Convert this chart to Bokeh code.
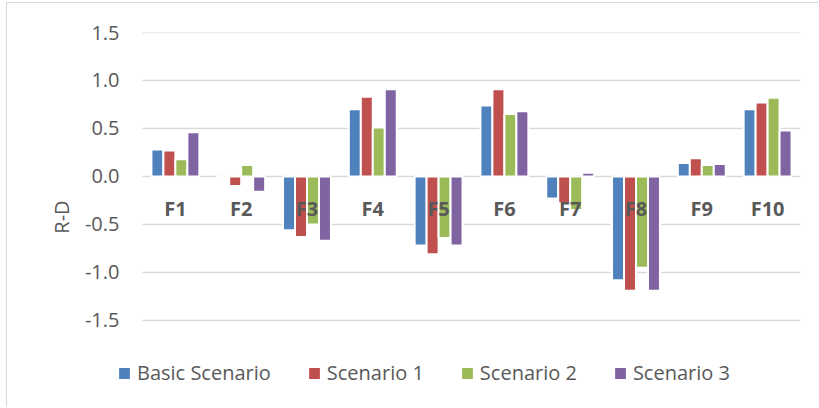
from bokeh.plotting import figure
from bokeh.models import Range1d, Legend, LegendItem, ColumnDataSource, FixedTicker
from bokeh.transform import dodge
from bokeh.core.properties import value
from bokeh.embed import file_html
from bokeh.resources import INLINE

categories = ["F1", "F2", "F3", "F4", "F5", "F6", "F7", "F8", "F9", "F10"]
basic = [0.28, -0.01, -0.56, 0.70, -0.72, 0.74, -0.23, -1.08, 0.14, 0.70]
scen1 = [0.27, -0.10, -0.63, 0.83, -0.81, 0.91, -0.28, -1.19, 0.19, 0.77]
scen2 = [0.18, 0.12, -0.50, 0.51, -0.64, 0.65, -0.35, -0.95, 0.12, 0.82]
scen3 = [0.46, -0.16, -0.67, 0.91, -0.72, 0.68, 0.04, -1.19, 0.13, 0.48]
series_names = ["Basic Scenario", "Scenario 1", "Scenario 2", "Scenario 3"]
colors = ["#4F81BD", "#C0504D", "#9BBB59", "#8064A2"]
y_ticks = [-1.5, -1.0, -0.5, 0.0, 0.5, 1.0, 1.5]
y_tick_labels = {t: f"{t:.1f}" for t in y_ticks}

TEXT = "#595959"
GRID = "#D9D9D9"

n = len(categories)
xi = list(range(n))
source = ColumnDataSource(dict(xi=xi, cat=categories, s0=basic, s1=scen1, s2=scen2, s3=scen3,
                               lab_y=[-0.33] * n))

# frame extends left and down so the legend sits inside it
p = figure(x_range=Range1d(-0.895, n - 0.5), y_range=Range1d(-2.344, 1.5),
           width=812, height=405, output_backend="svg", toolbar_location=None,
           min_border_left=109, min_border_right=19, min_border_top=29, min_border_bottom=7)
p.styles = {"border-left": "1px solid #D9D9D9", "border-top": "1px solid #D9D9D9",
            "margin-left": "6px", "margin-top": "2px"}
p.outline_line_color = None
p.xaxis.visible = False
p.grid.visible = False

# horizontal gridlines spanning the category area only
p.segment(x0=[-0.5] * len(y_ticks), x1=[n - 0.5] * len(y_ticks), y0=y_ticks, y1=y_ticks,
          line_color=GRID, line_width=1.3)

ax = p.yaxis[0]
ax.ticker = FixedTicker(ticks=y_ticks)
ax.major_label_overrides = y_tick_labels
ax.axis_line_color = None
ax.major_tick_line_color = None
ax.minor_tick_line_color = None
ax.major_label_standoff = -9
ax.major_label_text_font = "Open Sans"
ax.major_label_text_font_size = "20px"
ax.major_label_text_color = TEXT
ax.axis_label = "R-D"
ax.axis_label_text_font = "Open Sans"
ax.axis_label_text_font_size = "20px"
ax.axis_label_text_font_style = "normal"
ax.axis_label_text_color = TEXT
ax.axis_label_standoff = 7

offsets = [-0.273, -0.091, 0.091, 0.273]
renderers = []
for i, col in enumerate(colors):
    r = p.vbar(x=dodge("xi", offsets[i]), top=f"s{i}", bottom=0,
               width=0.182, source=source, fill_color=col, line_color="white", line_width=2)
    renderers.append(r)

p.text(x="xi", y="lab_y", text="cat", source=source, text_align="center",
       text_baseline="middle", text_font=value("Open Sans"), text_font_size="20px",
       text_font_style="bold", text_color=TEXT)

legend = Legend(items=[LegendItem(label=nm, renderers=[r]) for nm, r in zip(series_names, renderers)],
                orientation="horizontal", location=(0, 15),
                glyph_width=16, glyph_height=16, label_standoff=5, spacing=35,
                padding=0, margin=0, border_line_color=None, background_fill_alpha=0,
                label_text_font="Open Sans", label_text_font_size="20px",
                label_text_color=TEXT)
p.add_layout(legend, "center")

open("out.html", "w").write(file_html(p, INLINE))
